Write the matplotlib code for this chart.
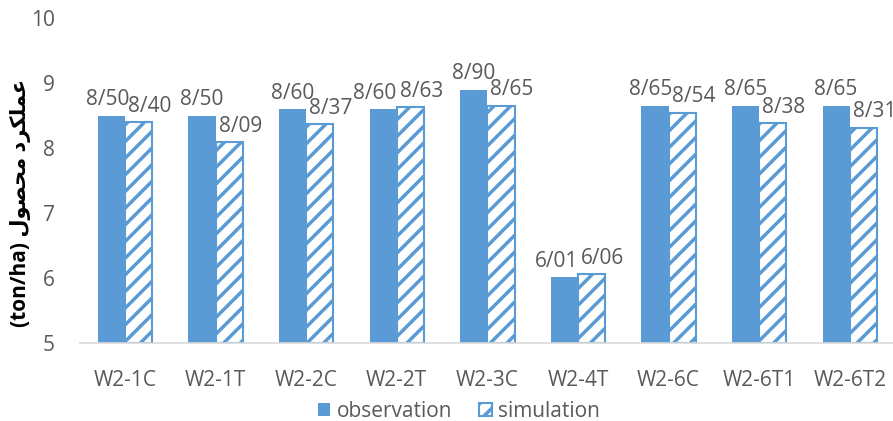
import numpy as np
import matplotlib
matplotlib.use('Agg')
import matplotlib.pyplot as plt

plt.rcParams['font.family'] = ['Open Sans', 'DejaVu Sans']
plt.rcParams['hatch.linewidth'] = 2.5

categories = ['W2-1C', 'W2-1T', 'W2-2C', 'W2-2T', 'W2-3C', 'W2-4T', 'W2-6C', 'W2-6T1', 'W2-6T2']
observation = [8.50, 8.50, 8.60, 8.60, 8.90, 6.01, 8.65, 8.65, 8.65]
simulation = [8.40, 8.09, 8.37, 8.63, 8.65, 6.06, 8.54, 8.38, 8.31]
yticks = [5, 6, 7, 8, 9, 10]

blue = '#5B9BD5'
grey = '#595959'

# y label: Persian text pre-shaped (presentation forms) and put in visual order
word1 = '\uFECB\uFEE4\uFEE0\uFB91\uFEAE\uFEA9'   # عملکرد
word2 = '\uFEE3\uFEA4\uFEBC\uFEEE\uFEDD'         # محصول
ylabel = '(ton/ha) ' + word2[::-1] + ' ' + word1[::-1]

def fmt(v):
    return f'{v:.2f}'.replace('.', '/')

fig = plt.figure(figsize=(8.93, 4.21), dpi=100)
ax = fig.add_axes([0.0893, 0.185, 0.913, 0.772])

x = np.arange(len(categories))
w = 0.3
ax.bar(x - 0.15, np.array(observation) - 5, w, bottom=5, color=blue, label='observation')
ax.bar(x + 0.15, np.array(simulation) - 5, w, bottom=5, color='white', edgecolor=blue,
       linewidth=1.5, hatch='//', label='simulation')

for xi, o, s in zip(x, observation, simulation):
    # push the left label aside when the two labels sit at nearly the same height
    d = abs(o - s)
    shift = -6 if d < 0.06 else (-3 if d < 0.15 else 0)
    ax.annotate(fmt(o), (xi - 0.15, o), xytext=(shift, 4), textcoords='offset points',
                ha='center', va='bottom', fontsize=15, color=grey)
    ax.annotate(fmt(s), (xi + 0.15, s), xytext=(8, 4), textcoords='offset points',
                ha='center', va='bottom', fontsize=15, color=grey)

ax.set_xlim(-0.5, len(categories) - 0.5)
ax.set_ylim(5, 10)
ax.set_yticks(yticks)
ax.set_xticks(x)
ax.set_xticklabels(categories)
ax.tick_params(axis='both', length=0, labelsize=15, colors=grey)
ax.tick_params(axis='x', pad=19)
ax.tick_params(axis='y', pad=18)
for s in ['top', 'right', 'left']:
    ax.spines[s].set_visible(False)
ax.spines['bottom'].set_color('#d9d9d9')
ax.spines['bottom'].set_linewidth(1.2)

ax.set_ylabel(ylabel, fontsize=15, fontweight='bold', color='black')
ax.yaxis.set_label_coords(-0.06, 0.43)

ax.legend(loc='center', bbox_to_anchor=(0.465, -0.21), ncol=2, frameon=False,
          fontsize=15, handlelength=0.6, handleheight=0.6, handletextpad=0.3,
          columnspacing=1.3, labelcolor=grey, borderpad=0.1)

fig.savefig('out.png', dpi=100)
